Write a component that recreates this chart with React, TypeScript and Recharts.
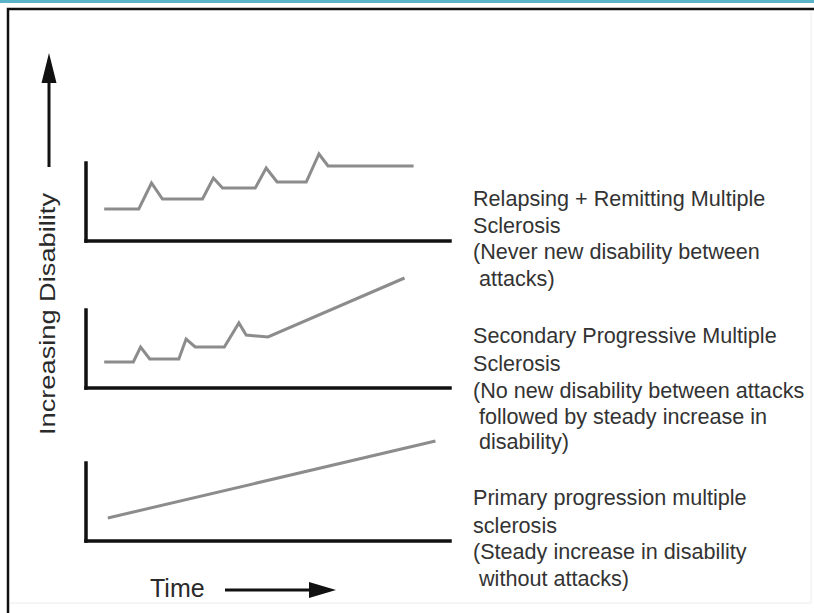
import React from 'react';
import { LineChart, Line, XAxis, YAxis, ReferenceLine } from 'recharts';

// relapsing + remitting
const rrTime = [5, 14.5, 18, 21, 32, 35, 37.5, 46.5, 49.5, 52.5, 60.5, 64, 66.5, 90];
const rrLevel = [32, 32, 58, 42, 42, 63, 53, 53, 73, 59, 59, 87, 75, 75];

// secondary progressive
const spTime = [5, 13, 15, 17.5, 25.5, 27.5, 30, 38, 42, 44, 50, 87.5];
const spLevel = [26, 26, 41, 29, 29, 49, 41, 41, 65, 53, 51, 110];

// primary progressive
const ppTime = [6, 96];
const ppLevel = [23, 100];

const rrLabel = ['Relapsing + Remitting Multiple', 'Sclerosis', '(Never new disability between', ' attacks)'];
const spLabel = [
  'Secondary Progressive Multiple',
  'Sclerosis',
  '(No new disability between attacks',
  ' followed by steady increase in',
  ' disability)',
];
const ppLabel = ['Primary progression multiple', 'sclerosis', '(Steady increase in disability', ' without attacks)'];

const yAxisLabel = 'Increasing Disability';
const xAxisLabel = 'Time';

const axisTop = 78;
const font = '"Liberation Sans", Arial, sans-serif';

interface MiniChartProps {
  times: number[]
  levels: number[]
  bottom: number
}

function MiniChart({ times, levels, bottom }: MiniChartProps) {
  const data = times.map((t, i) => ({ t, v: levels[i] }));
  return (
    <div style={{ position: 'absolute', left: 81, top: bottom - 120 }}>
      <LineChart width={374} height={130} data={data} margin={{ top: 0, right: 5, left: 5, bottom: 0 }}>
        <XAxis
          dataKey="t"
          type="number"
          domain={[0, 100]}
          tick={false}
          tickLine={false}
          height={10}
          axisLine={{ stroke: '#111', strokeWidth: 3.5, strokeLinecap: 'square' }}
        />
        <YAxis type="number" domain={[0, 120]} hide />
        <ReferenceLine
          segment={[{ x: 0, y: 0 }, { x: 0, y: axisTop }]}
          stroke="#111"
          strokeWidth={3.5}
          strokeLinecap="square"
          ifOverflow="visible"
        />
        <Line
          type="linear"
          dataKey="v"
          stroke="#8c8c8c"
          strokeWidth={3}
          dot={false}
          isAnimationActive={false}
        />
      </LineChart>
    </div>
  );
}

function TextBlock({ lines, baselines }: { lines: string[]; baselines: number[] }) {
  return (
    <>
      {lines.map((line, i) => (
        <text
          key={i}
          x={473}
          y={baselines[i]}
          fontSize={21.6}
          fill="#333"
          fontFamily={font}
          style={{ whiteSpace: 'pre' }}
        >
          {line}
        </text>
      ))}
    </>
  );
}

export default function App() {
  return (
    <div style={{ position: 'absolute', left: 0, top: 0, width: 814, height: 613, background: '#fff', overflow: 'hidden' }}>
      <svg width={814} height={613} style={{ position: 'absolute', left: 0, top: 0 }}>
        <rect x={0} y={0} width={814} height={3} fill="#5bb3ca" />
        <path d="M8,613 V9 H814" fill="none" stroke="#111" strokeWidth={2.5} />
        <path d="M811,12 V603 H10" fill="none" stroke="#ececec" strokeWidth={1} />

        {/* y arrow */}
        <line x1={49} y1={80} x2={49} y2={167} stroke="#111" strokeWidth={3} />
        <polygon points="49,53 41.5,83 56.5,83" fill="#111" />
        <text
          transform="translate(55,314) rotate(-90)"
          textAnchor="middle"
          fontSize={22}
          textLength={242}
          lengthAdjust="spacingAndGlyphs"
          fill="#2a2a2a"
          fontFamily={font}
        >
          {yAxisLabel}
        </text>

        {/* time arrow */}
        <text x={150} y={597} fontSize={25} fill="#2a2a2a" fontFamily={font}>
          {xAxisLabel}
        </text>
        <line x1={225} y1={590} x2={312} y2={590} stroke="#111" strokeWidth={3} />
        <polygon points="336,590 309,582 309,598" fill="#111" />

        <TextBlock lines={rrLabel} baselines={[206, 233, 259, 286]} />
        <TextBlock lines={spLabel} baselines={[343, 371, 398, 424, 449]} />
        <TextBlock lines={ppLabel} baselines={[505, 533, 559, 586]} />
      </svg>

      <MiniChart times={rrTime} levels={rrLevel} bottom={241} />
      <MiniChart times={spTime} levels={spLevel} bottom={388} />
      <MiniChart times={ppTime} levels={ppLevel} bottom={541} />
    </div>
  );
}
